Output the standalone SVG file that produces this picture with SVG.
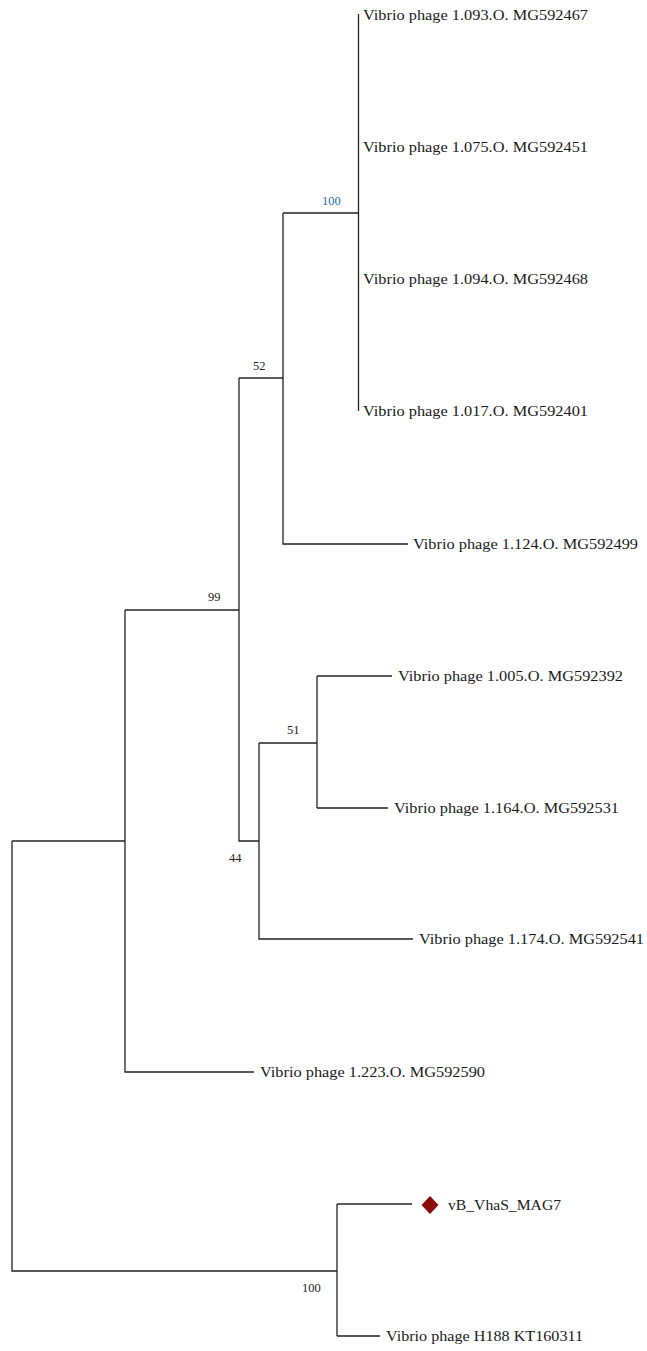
<svg xmlns="http://www.w3.org/2000/svg" width="647" height="1351" viewBox="0 0 647 1351">
<style>
.e{stroke:#222;stroke-width:1.3;fill:none}
.t{font-family:"Liberation Serif",serif;font-size:15.5px;fill:#1a1a1a}
.b{font-family:"Liberation Serif",serif;font-size:12.5px;fill:#222}
</style>
<rect width="647" height="1351" fill="#fff"/>
<g id="edges">
<path class="e" d="M358.5 14V411"/>
<path class="e" d="M283 213H358.5"/>
<path class="e" d="M283 213V544H408"/>
<path class="e" d="M239 378H283"/>
<path class="e" d="M239 378V841H259"/>
<path class="e" d="M125 610H239"/>
<path class="e" d="M259 743V939H413"/>
<path class="e" d="M259 743H317"/>
<path class="e" d="M317 676V808"/>
<path class="e" d="M317 676H392"/>
<path class="e" d="M317 808H388"/>
<path class="e" d="M125 610V1072H254"/>
<path class="e" d="M12 841H125"/>
<path class="e" d="M12 841V1271H337"/>
<path class="e" d="M337 1204V1336"/>
<path class="e" d="M337 1204H412"/>
<path class="e" d="M337 1336H380"/>
</g>
<g id="leaf1"><text class="t" x="363" y="20" textLength="225" lengthAdjust="spacingAndGlyphs">Vibrio phage 1.093.O. MG592467</text></g>
<g id="leaf2"><text class="t" x="363" y="152" textLength="225" lengthAdjust="spacingAndGlyphs">Vibrio phage 1.075.O. MG592451</text></g>
<g id="leaf3"><text class="t" x="363" y="284" textLength="225" lengthAdjust="spacingAndGlyphs">Vibrio phage 1.094.O. MG592468</text></g>
<g id="leaf4"><text class="t" x="363" y="416" textLength="225" lengthAdjust="spacingAndGlyphs">Vibrio phage 1.017.O. MG592401</text></g>
<g id="leaf5"><text class="t" x="413" y="549" textLength="225" lengthAdjust="spacingAndGlyphs">Vibrio phage 1.124.O. MG592499</text></g>
<g id="leaf6"><text class="t" x="398" y="681" textLength="225" lengthAdjust="spacingAndGlyphs">Vibrio phage 1.005.O. MG592392</text></g>
<g id="leaf7"><text class="t" x="394" y="813" textLength="225" lengthAdjust="spacingAndGlyphs">Vibrio phage 1.164.O. MG592531</text></g>
<g id="leaf8"><text class="t" x="419" y="944" textLength="225" lengthAdjust="spacingAndGlyphs">Vibrio phage 1.174.O. MG592541</text></g>
<g id="leaf9"><text class="t" x="260" y="1077" textLength="225" lengthAdjust="spacingAndGlyphs">Vibrio phage 1.223.O. MG592590</text></g>
<g id="leaf10"><path d="M430 1196L438.5 1205L430 1214L421.5 1205Z" fill="#8b0a0a"/><text class="t" x="448" y="1210" textLength="113" lengthAdjust="spacingAndGlyphs">vB_VhaS_MAG7</text></g>
<g id="leaf11"><text class="t" x="386" y="1341" textLength="197" lengthAdjust="spacingAndGlyphs">Vibrio phage H188 KT160311</text></g>
<g id="bootstrap">
<text class="b" x="322" y="205" style="fill:#1f6fb0">100</text>
<text class="b" x="253" y="370">52</text>
<text class="b" x="208" y="601">99</text>
<text class="b" x="287" y="734">51</text>
<text class="b" x="229" y="862">44</text>
<text class="b" x="302" y="1292">100</text>
</g>
</svg>
